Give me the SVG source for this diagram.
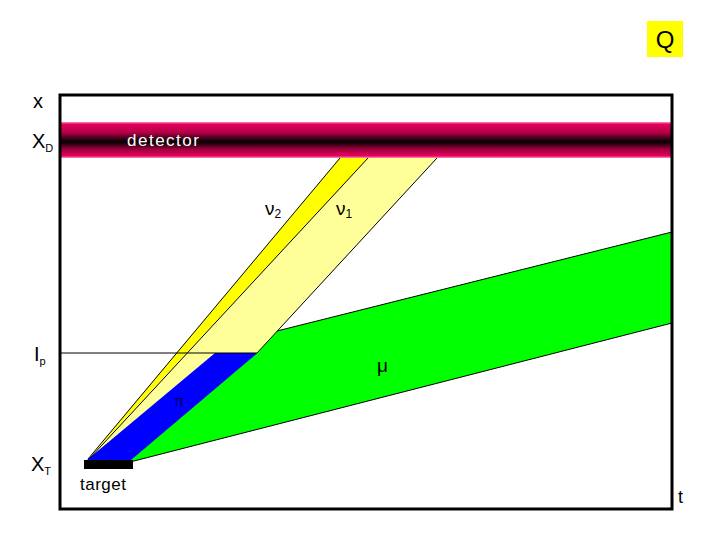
<svg xmlns="http://www.w3.org/2000/svg" width="720" height="540" viewBox="0 0 720 540">
<style>
text{font-family:"Liberation Sans","DejaVu Sans",sans-serif;fill:#000}
.ax{font-size:20px}
.sub{font-size:11px}
.edge{stroke:#000;stroke-width:1;fill:none}
</style>
<defs>
<linearGradient id="det" x1="0" y1="0" x2="0" y2="1">
<stop offset="0" stop-color="#ff8fc0"/>
<stop offset="0.06" stop-color="#e8005c"/>
<stop offset="0.3" stop-color="#b00046"/>
<stop offset="0.55" stop-color="#000000"/>
<stop offset="0.75" stop-color="#9a003c"/>
<stop offset="0.94" stop-color="#e8005c"/>
<stop offset="1" stop-color="#ff8fc0"/>
</linearGradient>
</defs>
<rect width="720" height="540" fill="#fff"/>
<g id="mu-band">
<polygon points="118,462 245,353 257,353 277,331 672,232 672,323 130,462" fill="#00ff00"/>
<path class="edge" d="M277,331 L672,232 M130,462 L672,323"/>
</g>
<g id="nu1-band">
<polygon points="87,460 368,158 437,158 257,353 215,353" fill="#ffff99"/>
</g>
<g id="nu2-band">
<polygon points="87,460 340,158 368,158" fill="#ffff00"/>
</g>
<g id="pi-band">
<polygon points="87,460 131,460 257.5,353 215,353" fill="#0000ff"/>
</g>
<g id="connectors">
<path class="edge" d="M88,459 L340,158 M90,458 L368,158 M257,353 L437,158 M60,353 L257,353"/>
</g>
<g id="detector">
<rect x="60" y="122" width="612" height="36" fill="url(#det)"/>
<text x="127" y="146" font-size="17" style="fill:#fff;letter-spacing:1.5px">detector</text>
</g>
<g id="target">
<rect x="84" y="460" width="49" height="9" fill="#000"/>
<text x="80" y="490" font-size="17" style="letter-spacing:0.5px">target</text>
</g>
<g id="frame">
<rect x="60" y="95" width="612" height="414" fill="none" stroke="#000" stroke-width="3"/>
</g>
<g id="labels">
<text x="33" y="108" font-size="20">x</text>
<text x="32" y="148" class="ax">X<tspan class="sub" dy="4">D</tspan></text>
<text x="34" y="361" class="ax">I<tspan class="sub" dy="4">p</tspan></text>
<text x="31" y="471" class="ax">X<tspan class="sub" dy="4">T</tspan></text>
<text x="678" y="503" font-size="18">t</text>
<text x="265" y="215" font-size="19">ν<tspan font-size="12" dy="3">2</tspan></text>
<text x="336" y="215" font-size="19">ν<tspan font-size="12" dy="3">1</tspan></text>
<text x="377" y="372" font-size="19">μ</text>
<text x="174" y="406" font-size="15" style="fill:#000060">π</text>
</g>
<g id="Q">
<rect x="647" y="21" width="36" height="36" fill="#ffff00"/>
<text x="665" y="48" font-size="24" text-anchor="middle">Q</text>
</g>
</svg>
